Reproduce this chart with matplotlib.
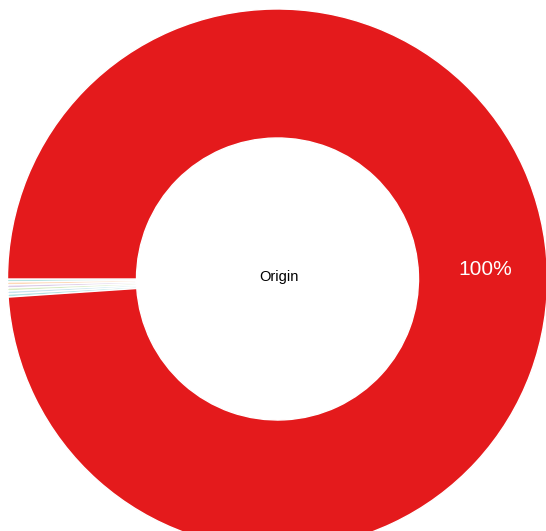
import matplotlib
matplotlib.use("Agg")
import matplotlib.pyplot as plt
import numpy as np

categories = ["A", "B", "C", "D", "E", "F", "G"]
values = [1.8, 1.8, 1.8, 1.8, 1.8, 1.8, 1000]
colors = ["#b3e2e2", "#fdd9b8", "#dccbe8", "#d8ecc4", "#c8e4f0", "#b3e2e2", "#e41a1c"]
slice_labels = ["", "", "", "", "", "", "100%"]
title = "Origin"

W, H = 546, 531
fig = plt.figure(figsize=(W / 100, H / 100), dpi=100)
ax = fig.add_axes([0, 0, 1, 1])

cx, cy = 277.5, H - 279
R, r = 270, 141
wedges, _ = ax.pie(values, colors=colors, center=(cx, cy), radius=R,
                   startangle=180, counterclock=True, frame=True,
                   wedgeprops=dict(width=R - r, edgecolor="white", linewidth=1.0))
ax.set_xlim(0, W)
ax.set_ylim(0, H)
ax.set_aspect("equal")
ax.axis("off")

rm = (R + r) / 2
for w, lab in zip(wedges, slice_labels):
    if not lab:
        continue
    mid = np.deg2rad((w.theta1 + w.theta2) / 2)
    ax.text(cx + rm * np.cos(mid) + 2, cy + rm * np.sin(mid) + 3, lab,
            color="white", fontsize=15, ha="center", va="center", family="Liberation Sans")
ax.text(cx + 1, cy + 2, title, fontsize=10.5, ha="center", va="center", family="Liberation Sans")

fig.savefig("out.png", dpi=100)
